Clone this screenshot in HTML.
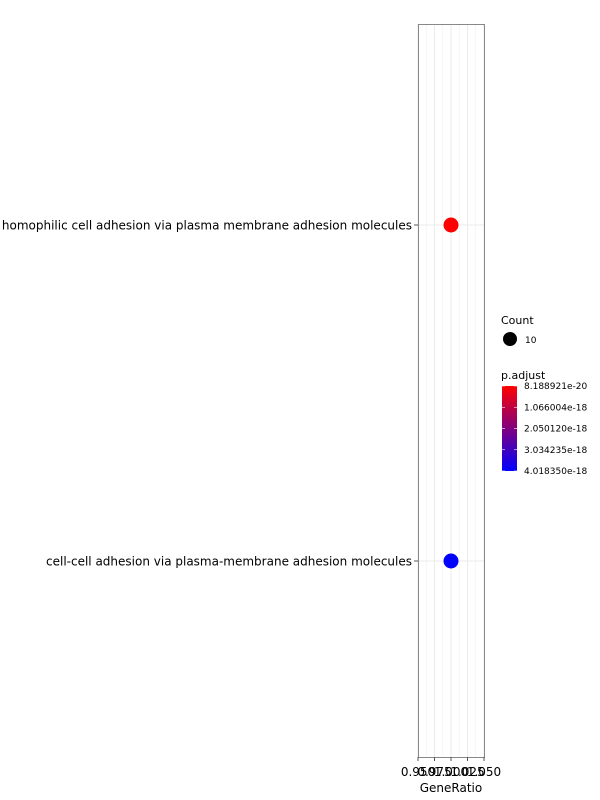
<!DOCTYPE html>
<html><head><meta charset="utf-8"><style>
html,body{margin:0;padding:0;background:#fff;width:600px;height:800px;overflow:hidden}
text{font-family:"DejaVu Sans","Liberation Sans",sans-serif}
</style></head><body>
<svg id="chart" width="600" height="800" xmlns="http://www.w3.org/2000/svg">
<defs><linearGradient id="grad" x1="0" y1="1" x2="0" y2="0">
<stop offset="0" stop-color="#0000ff"/><stop offset="1" stop-color="#ff0000"/></linearGradient></defs>
<g id="grid"></g>
<g id="marks"></g>
<rect x="418.5" y="24.5" width="66" height="733" fill="none" stroke="#888" stroke-width="1"/>
<g id="axes"></g>
<text x="451" y="792" font-size="12" text-anchor="middle">GeneRatio</text>
<g>
<text x="501" y="324" font-size="11">Count</text>
<circle cx="510" cy="339" r="7" fill="#000"/>
<text x="525" y="343" font-size="9">10</text>
<text x="501" y="379" font-size="11">p.adjust</text>
<rect x="502" y="386" width="15" height="85" fill="url(#grad)"/>
<g id="cbticks"></g>
</g>
</svg>
<script>
const categories = ["homophilic cell adhesion via plasma membrane adhesion molecules","cell-cell adhesion via plasma-membrane adhesion molecules"];
const geneRatio = [1.0, 1.0];
const counts = [10, 10];
const padjust = [8.188921e-20, 4.018350e-18];
const xTicks = [0.95, 0.975, 1.0, 1.025, 1.05];
const xTickLabels = ["0.950","0.975","1.000","1.025","1.050"];
const cbLabels = ["8.188921e-20","1.066004e-18","2.050120e-18","3.034235e-18","4.018350e-18"];

const NS="http://www.w3.org/2000/svg";
function mk(tag,attrs,parent){const e=document.createElementNS(NS,tag);for(const k in attrs)e.setAttribute(k,attrs[k]);parent.appendChild(e);return e;}
const xScale=v=>418+(v-0.95)/(0.1)*66;
const yScale=i=>225+i*336;
const pMin=Math.min(...padjust),pMax=Math.max(...padjust);
function color(p){const t=pMax===pMin?1:(p-pMin)/(pMax-pMin);const r=Math.round(255*(1-t)),b=Math.round(255*t);return `rgb(${r},0,${b})`;}
const grid=document.getElementById('grid'),axes=document.getElementById('axes'),marks=document.getElementById('marks');
for(let i=0;i<xTicks.length-1;i++){
  const g=mk('line',{x1:xScale((xTicks[i]+xTicks[i+1])/2),x2:xScale((xTicks[i]+xTicks[i+1])/2),y1:24,y2:757,stroke:'#f0f0f0','stroke-width':0.6},grid);
  
  
}
xTicks.forEach((v,i)=>{
  const x=xScale(v);
  const g=mk('line',{x1:x,x2:x,y1:24,y2:757,stroke:'#ebebeb','stroke-width':1},grid);
  
  
  const t=mk('line',{x1:x,x2:x,y1:757,y2:761,stroke:'#555'},axes);
  
  
  const l=mk('text',{x:x,y:776,'font-size':12,'text-anchor':'middle',fill:'#000'},axes);
  l.textContent=xTickLabels[i];
  
  
});
categories.forEach((c,i)=>{
  const y=yScale(i);
  const g=mk('line',{x1:418,x2:484,y1:y,y2:y,stroke:'#ebebeb','stroke-width':1},grid);
  
  
  const t=mk('line',{x1:414,x2:418,y1:y,y2:y,stroke:'#555'},axes);
  
  
  const l=mk('text',{x:412,y:y+4.5,'font-size':12,'text-anchor':'end',fill:'#000'},axes);
  l.textContent=c;
  
  
  const p=mk('circle',{cx:xScale(geneRatio[i]),cy:y,r:7.5,fill:color(padjust[i])},marks);
  
  
});
const cb=document.getElementById('cbticks');
cbLabels.forEach((s,i)=>{
  const y=386+i*85/4;
  mk('line',{x1:502,x2:505,y1:y,y2:y,stroke:'#fff','stroke-width':0.6},cb);
  mk('line',{x1:514,x2:517,y1:y,y2:y,stroke:'#fff','stroke-width':0.6},cb);
  const l=mk('text',{x:524,y:y+3,'font-size':9},cb);
  l.textContent=s;
  
  
});
</script>
</body></html>
